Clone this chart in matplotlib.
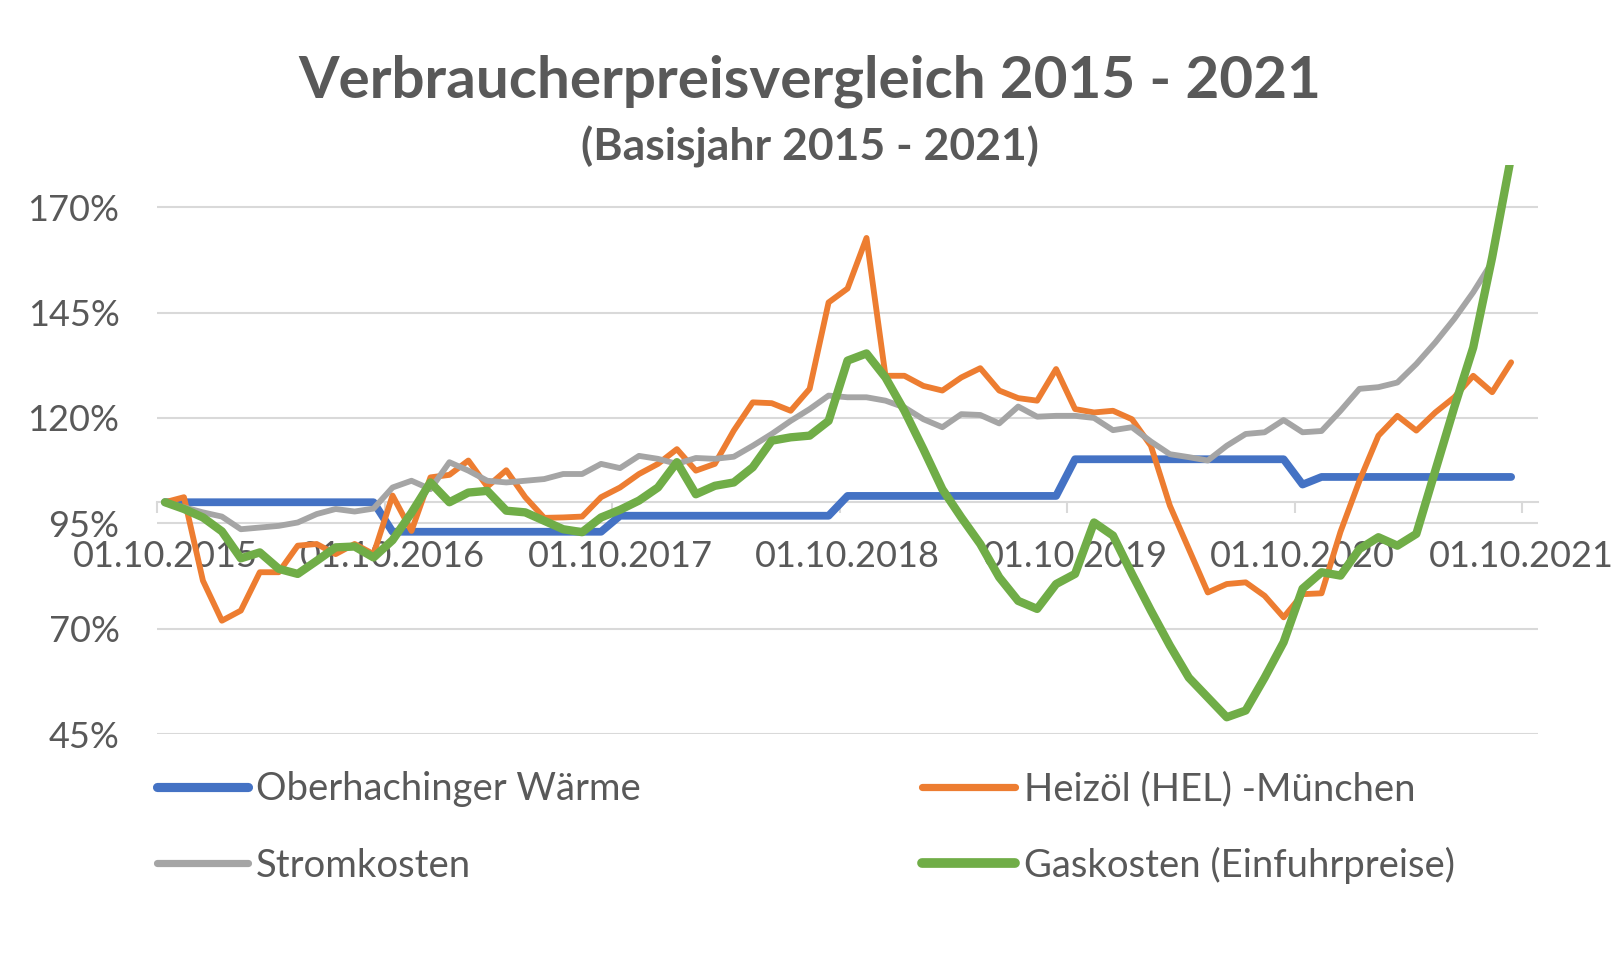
import numpy as np
import pandas as pd
import matplotlib
matplotlib.use('Agg')
from matplotlib import pyplot as plt
from matplotlib.lines import Line2D
from matplotlib.transforms import ScaledTranslation

# monthly values, 10/2015 .. 09/2021 (in % of base)
months = pd.date_range('2015-10-01', periods=72, freq='MS')
tick_labels = ['01.10.2015', '01.10.2016', '01.10.2017', '01.10.2018',
               '01.10.2019', '01.10.2020', '01.10.2021']
y_ticks = [45, 70, 95, 120, 145, 170]

waerme = [100, 100, 100, 100, 100, 100, 100, 100, 100, 100, 100, 100,
          93, 93, 93, 93, 93, 93, 93, 93, 93, 93, 93, 93,
          96.8, 96.8, 96.8, 96.8, 96.8, 96.8, 96.8, 96.8, 96.8, 96.8, 96.8, 96.8,
          101.5, 101.5, 101.5, 101.5, 101.5, 101.5, 101.5, 101.5, 101.5, 101.5, 101.5, 101.5,
          110.2, 110.2, 110.2, 110.2, 110.2, 110.2, 110.2, 110.2, 110.2, 110.2, 110.2, 110.2,
          104.2, 106, 106, 106, 106, 106, 106, 106, 106, 106, 106, 106]

heizoel = [100, 101.2, 81.4, 71.9, 74.3, 83.4, 83.4, 89.7, 90.1, 87.7, 90.1, 87.7,
           101.6, 93.2, 105.9, 106.5, 109.9, 103.7, 107.6, 101.2, 96.3, 96.4, 96.6, 101.2,
           103.5, 106.7, 109.1, 112.6, 107.5, 109.1, 117.0, 123.7, 123.5, 121.7, 126.9, 147.4,
           150.7, 162.7, 130.0, 130.0, 127.6, 126.5, 129.6, 131.8, 126.5, 124.7, 124.1, 131.6,
           122.1, 121.3, 121.7, 119.7, 113.4, 99.2, 88.9, 78.6, 80.6, 81.0, 77.8, 72.7,
           78.2, 78.4, 93.0, 105.1, 115.8, 120.5, 117.0, 121.3, 124.9, 130.0, 126.1, 133.2]

strom = [100, 98.8, 97.6, 96.6, 93.6, 94.0, 94.4, 95.2, 97.2, 98.4, 97.8, 98.5,
         103.5, 105.1, 103.1, 109.5, 107.5, 105.1, 104.7, 105.1, 105.5, 106.7, 106.7, 109.1,
         108.1, 111.0, 110.3, 109.1, 110.5, 110.3, 110.8, 113.4, 116.2, 119.3, 122.1, 125.3,
         124.9, 124.9, 124.1, 122.5, 119.7, 117.8, 120.9, 120.7, 118.7, 122.7, 120.3, 120.5,
         120.5, 120.0, 117.1, 117.8, 114.4, 111.4, 110.7, 109.9, 113.4, 116.2, 116.6, 119.5,
         116.6, 116.9, 121.7, 126.9, 127.3, 128.4, 132.8, 137.9, 143.5, 149.8, 157.0, np.nan]

gas = [100, 98.4, 96.4, 93.1, 86.7, 88.1, 84.2, 83.0, 86.1, 89.3, 89.5, 86.9,
       91.0, 97.5, 104.7, 100.0, 102.3, 102.7, 98.0, 97.6, 95.6, 93.6, 92.9, 96.4,
       98.2, 100.4, 103.5, 109.5, 101.9, 103.9, 104.7, 108.3, 114.6, 115.4, 115.8, 119.3,
       133.6, 135.3, 129.6, 121.7, 112.6, 103.1, 96.4, 90.1, 82.2, 76.6, 74.7, 80.6,
       83.0, 95.2, 92.1, 83.0, 74.3, 66.0, 58.4, 53.7, 49.0, 50.6, 58.4, 66.8,
       79.5, 83.4, 82.6, 88.9, 91.7, 89.7, 92.5, 107.5, 122.5, 136.7, 158.1, 182.0]

series = [
    ('Oberhachinger Wärme', waerme, '#4472C4', 5.6),
    ('Heizöl (HEL) -München', heizoel, '#ED7D31', 4.2),
    ('Stromkosten', strom, '#A5A5A5', 4.2),
    ('Gaskosten (Einfuhrpreise)', gas, '#70AD47', 6.0),
]

plt.rcParams['font.family'] = ['Lato', 'DejaVu Sans']
text_color = '#595959'
grid_color = '#D9D9D9'

fig = plt.figure(figsize=(16.19, 9.61), dpi=100)
ax = fig.add_axes([0.0970, 0.2361, 0.8530, 0.5922])

x = np.arange(len(months))
for k, (name, vals, color, lw) in enumerate(series):
    ax.plot(x, vals, color=color, lw=lw, solid_capstyle='round',
            solid_joinstyle='round', zorder=3 + k, label=name)

ax.set_xlim(-0.42, 72.42)
ax.set_ylim(45, 180)
ax.set_yticks(y_ticks)
ax.set_yticklabels([f'{v}%' for v in y_ticks])
ax.yaxis.grid(True, color=grid_color, lw=1.5)
ax.set_axisbelow(True)

for s in ['top', 'right', 'left']:
    ax.spines[s].set_visible(False)
ax.spines['bottom'].set_position(('data', 100))
ax.spines['bottom'].set_color(grid_color)
ax.spines['bottom'].set_linewidth(1.5)

ax.set_xticks(np.arange(0, 73, 12))
ax.set_xticklabels(tick_labels)
ax.set_xticks(np.arange(0, 73, 12) - 0.42, minor=True)
ax.tick_params(axis='x', which='major', length=0, pad=27, labelsize=26, labelcolor=text_color)
ax.tick_params(axis='x', which='minor', length=8, width=1.5, color=grid_color, direction='out')
ax.tick_params(axis='y', length=0, pad=27, labelsize=26, labelcolor=text_color)

# keep the last date label inside the picture
last = ax.get_xticklabels()[-1]
last.set_transform(last.get_transform() + ScaledTranslation(-9 / 100, 0, fig.dpi_scale_trans))

fig.text(0.5, 1 - 98 / 961, 'Verbraucherpreisvergleich 2015 - 2021', ha='center',
         va='baseline', fontsize=42, fontweight='bold', color=text_color)
fig.text(0.5, 1 - 160 / 961, '(Basisjahr 2015 - 2021)', ha='center',
         va='baseline', fontsize=32, fontweight='bold', color=text_color)

# legend, 2 columns (pixel positions of handle start, handle end, text start)
cols = [(157, 248, 256), (922, 1015, 1024)]
rows = [(787, 800), (863, 877)]
slots = [(0, 0), (1, 0), (0, 1), (1, 1)]
W, H = 1619, 961
for (name, vals, color, lw), (c, r) in zip(series, slots):
    x0, x1, xt = cols[c]
    yl, yb = rows[r]
    fig.add_artist(Line2D([x0 / W, x1 / W], [1 - yl / H, 1 - yl / H], transform=fig.transFigure,
                          color=color, lw=lw + 1.0, solid_capstyle='round'))
    fig.text(xt / W, 1 - yb / H, name, ha='left', va='baseline', fontsize=27.5, color=text_color)

fig.savefig('out.png', dpi=100)
